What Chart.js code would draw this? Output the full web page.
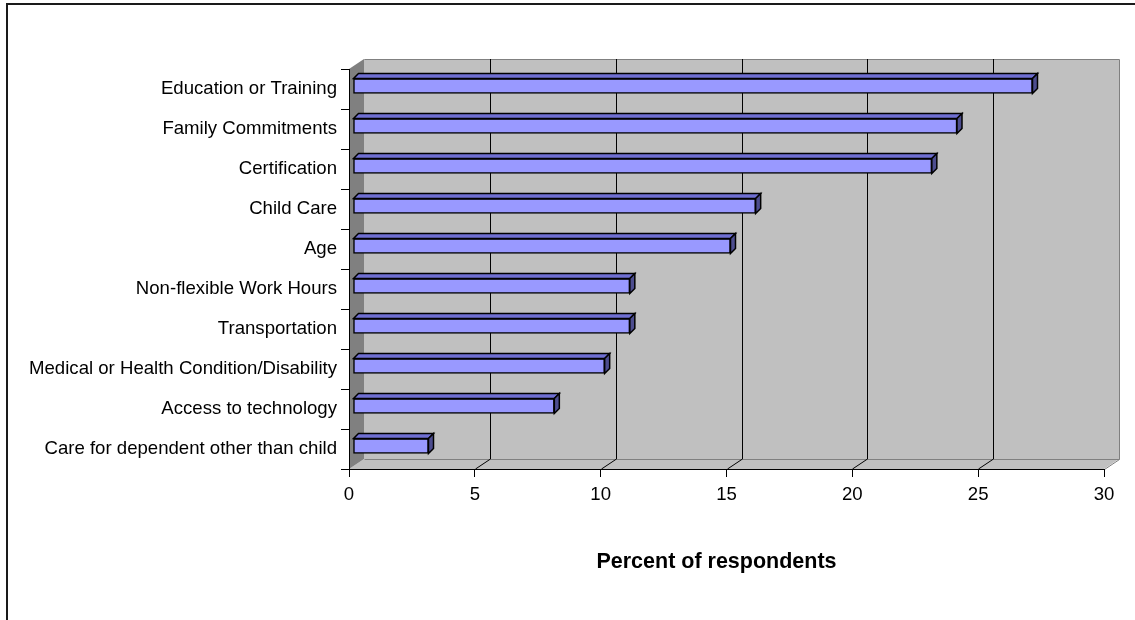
<!DOCTYPE html>
<html>
<head>
<meta charset="utf-8">
<script src="https://cdn.jsdelivr.net/npm/chart.js@4.4.1/dist/chart.umd.min.js"></script>
<style>
  html, body { margin: 0; padding: 0; background: #ffffff; }
  canvas { display: block; }
</style>
</head>
<body>
<canvas id="chart" width="1135" height="620"></canvas>
<script>
// Barriers reported by respondents (percent)
const categories = [
  'Education or Training',
  'Family Commitments',
  'Certification',
  'Child Care',
  'Age',
  'Non-flexible Work Hours',
  'Transportation',
  'Medical or Health Condition/Disability',
  'Access to technology',
  'Care for dependent other than child'
];
const percents = [27, 24, 23, 16, 15, 11, 11, 10, 8, 3];
const xMin = 0;
const xMax = 30;
const xStep = 5;
const axisTitle = 'Percent of respondents';

const FONT = "'Liberation Sans', Arial, sans-serif";

// depth of the walls and of the bars for the pseudo-3D look
const WALL_DX = 15, WALL_DY = -10;
const BAR_SHIFT_X = 4, BAR_SHIFT_Y = -3;
const BAR_DX = 5, BAR_DY = -5;

const frame3d = {
  id: 'frame3d',
  beforeDraw(chart) {
    const ctx = chart.ctx;
    const a = chart.chartArea;
    const xs = chart.scales.x;
    ctx.save();
    // page background and outer frame
    ctx.fillStyle = '#ffffff';
    ctx.fillRect(0, 0, chart.width, chart.height);
    ctx.strokeStyle = '#1a1a1a';
    ctx.lineWidth = 2;
    ctx.beginPath();
    ctx.moveTo(7, chart.height);
    ctx.lineTo(7, 4);
    ctx.lineTo(chart.width, 4);
    ctx.stroke();

    const L = a.left, R = a.right, T = a.top, B = a.bottom;
    // back wall
    ctx.fillStyle = '#c0c0c0';
    ctx.fillRect(L + WALL_DX, T + WALL_DY, R - L, B - T);
    // floor
    ctx.beginPath();
    ctx.moveTo(L, B);
    ctx.lineTo(R, B);
    ctx.lineTo(R + WALL_DX, B + WALL_DY);
    ctx.lineTo(L + WALL_DX, B + WALL_DY);
    ctx.closePath();
    ctx.fill();
    // left wall
    ctx.fillStyle = '#808080';
    ctx.beginPath();
    ctx.moveTo(L, T);
    ctx.lineTo(L + WALL_DX, T + WALL_DY);
    ctx.lineTo(L + WALL_DX, B + WALL_DY);
    ctx.lineTo(L, B);
    ctx.closePath();
    ctx.fill();

    // wall outlines
    ctx.strokeStyle = '#808080';
    ctx.lineWidth = 1;
    ctx.beginPath();
    ctx.moveTo(L + WALL_DX + 0.5, T + WALL_DY + 0.5);
    ctx.lineTo(R + WALL_DX + 0.5, T + WALL_DY + 0.5);
    ctx.lineTo(R + WALL_DX + 0.5, B + WALL_DY + 0.5);
    ctx.lineTo(L + WALL_DX + 0.5, B + WALL_DY + 0.5);
    ctx.moveTo(R + WALL_DX + 0.5, B + WALL_DY + 0.5);
    ctx.lineTo(R + 0.5, B + 0.5);
    ctx.stroke();

    // value grid on the back wall and the floor
    ctx.strokeStyle = '#000000';
    ctx.lineWidth = 1;
    for (let v = xMin + xStep; v < xMax; v += xStep) {
      const px = Math.round(xs.getPixelForValue(v)) + 0.5;
      ctx.beginPath();
      ctx.moveTo(px + WALL_DX, T + WALL_DY);
      ctx.lineTo(px + WALL_DX, B + WALL_DY);
      ctx.lineTo(px, B);
      ctx.stroke();
    }
    ctx.restore();
  },
  beforeDatasetsDraw(chart) {
    chart.ctx.save();
    chart.ctx.translate(BAR_SHIFT_X, BAR_SHIFT_Y);
  },
  afterDatasetsDraw(chart) {
    const ctx = chart.ctx;
    const meta = chart.getDatasetMeta(0);
    ctx.lineWidth = 1.5;
    ctx.strokeStyle = '#000000';
    ctx.lineJoin = 'miter';
    meta.data.forEach((bar) => {
      const { x, y, base, height } = bar.getProps(['x', 'y', 'base', 'height'], true);
      const top = y - height / 2;
      const bot = y + height / 2;
      // top face
      ctx.fillStyle = '#6f6fd2';
      ctx.beginPath();
      ctx.moveTo(base, top);
      ctx.lineTo(x, top);
      ctx.lineTo(x + BAR_DX, top + BAR_DY);
      ctx.lineTo(base + BAR_DX, top + BAR_DY);
      ctx.closePath();
      ctx.fill();
      ctx.stroke();
      // end face
      ctx.fillStyle = '#4d4d8f';
      ctx.beginPath();
      ctx.moveTo(x, top);
      ctx.lineTo(x + BAR_DX, top + BAR_DY);
      ctx.lineTo(x + BAR_DX, bot + BAR_DY);
      ctx.lineTo(x, bot);
      ctx.closePath();
      ctx.fill();
      ctx.stroke();
    });
    ctx.restore();
  },
  afterDraw(chart) {
    // value-axis title, set a little left of the axis centre
    const ctx = chart.ctx;
    const a = chart.chartArea;
    ctx.save();
    ctx.fillStyle = '#000000';
    ctx.font = 'bold 21.5px ' + FONT;
    ctx.textAlign = 'center';
    ctx.textBaseline = 'middle';
    ctx.fillText(axisTitle, (a.left + a.right) / 2 - 10, a.bottom + 93);
    ctx.restore();
  }
};

new Chart(document.getElementById('chart'), {
  type: 'bar',
  data: {
    labels: categories,
    datasets: [{
      data: percents,
      backgroundColor: '#9999ff',
      borderColor: '#000000',
      borderWidth: 1.5,
      borderSkipped: false,
      barThickness: 15
    }]
  },
  options: {
    indexAxis: 'y',
    responsive: false,
    animation: false,
    events: [],
    layout: { padding: { top: 69, right: 31, left: 0, bottom: 0 } },
    plugins: {
      legend: { display: false },
      tooltip: { enabled: false }
    },
    scales: {
      x: {
        min: xMin,
        max: xMax,
        afterFit(s) { s.height = 151; },
        grid: {
          display: true,
          drawOnChartArea: false,
          drawTicks: true,
          tickLength: 8,
          color: '#000000',
          lineWidth: 1
        },
        border: { display: true, color: '#000000', width: 1 },
        ticks: {
          stepSize: xStep,
          padding: 7,
          color: '#000000',
          font: { family: FONT, size: 18.6 }
        },
        title: { display: false }
      },
      y: {
        afterFit(s) { s.width = 349; },
        grid: {
          display: true,
          drawOnChartArea: false,
          drawTicks: true,
          tickLength: 8,
          color: '#000000',
          lineWidth: 1
        },
        border: { display: true, color: '#000000', width: 1 },
        ticks: {
          padding: 4,
          color: '#000000',
          autoSkip: false,
          font: { family: FONT, size: 18.6 }
        }
      }
    }
  },
  plugins: [frame3d]
});
</script>
</body>
</html>
